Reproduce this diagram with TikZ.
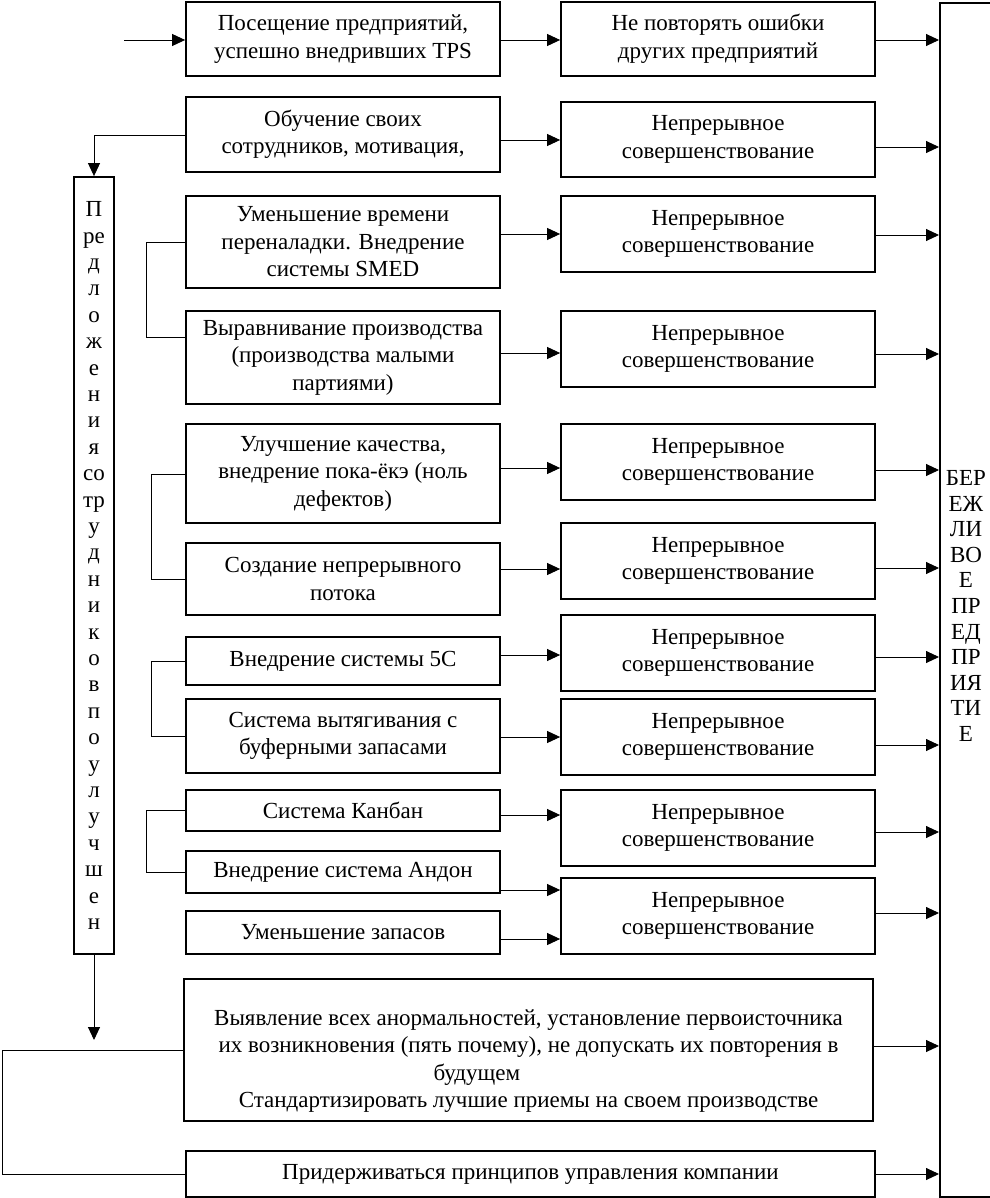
\documentclass[tikz,border=0pt]{standalone}
\usepackage{fontspec}
\setmainfont{Liberation Serif}
\usetikzlibrary{arrows.meta}
\begin{document}
\begin{tikzpicture}[x=1pt,y=-1pt,
  box/.style={draw, line width=1.8pt, align=center, inner sep=0pt, font=\fontsize{23}{27.5}\selectfont},
  lbox/.style={box, minimum width=314pt},
  rbox/.style={box, minimum width=314pt, minimum height=76pt},
  arr/.style={-{Triangle[length=13pt,width=12pt]}, line width=0.9pt},
  ln/.style={line width=0.9pt}]
\useasboundingbox (0,0) rectangle (989,1198);

% left column
\node[lbox, minimum height=74pt] (L1) at (343,39) {Посещение предприятий,\\успешно внедривших TPS};
\node[lbox, minimum height=75pt] (L2) at (343,134.5) {Обучение своих\\сотрудников, мотивация,};
\node[lbox, minimum height=92pt] (L3) at (343,242) {Уменьшение времени\\переналадки. Внедрение\\системы SMED};
\node[lbox, minimum height=93pt] (L4) at (343,357.5) {Выравнивание производства\\(производства малыми\\партиями)};
\node[lbox, minimum height=99pt] (L5) at (343,473.5) {Улучшение качества,\\внедрение пока-ёкэ (ноль\\дефектов)};
\node[lbox, minimum height=72pt] (L6) at (343,579) {Создание непрерывного\\потока};
\node[lbox, minimum height=48pt] (L7) at (343,661) {Внедрение системы 5С};
\node[lbox, minimum height=74pt] (L8) at (343,736) {Система вытягивания с\\буферными запасами};
\node[lbox, minimum height=41pt] (L9) at (343,810.5) {Система Канбан};
\node[lbox, minimum height=42pt] (L10) at (343,872) {Внедрение система Андон};
\node[lbox, minimum height=43pt] (L11) at (343,932.5) {Уменьшение запасов};

% right column
\node[rbox, minimum height=74pt] (R1) at (718,39) {Не повторять ошибки\\других предприятий};
\node[rbox, minimum height=75pt] (R2) at (718,139.5) {Непрерывное\\совершенствование};
\node[rbox] (R3) at (718,234) {Непрерывное\\совершенствование};
\node[rbox] (R4) at (718,349) {Непрерывное\\совершенствование};
\node[rbox] (R5) at (718,462) {Непрерывное\\совершенствование};
\node[rbox] (R6) at (718,561) {Непрерывное\\совершенствование};
\node[rbox] (R7) at (718,653) {Непрерывное\\совершенствование};
\node[rbox] (R8) at (718,737) {Непрерывное\\совершенствование};
\node[rbox] (R9) at (718,828) {Непрерывное\\совершенствование};
\node[rbox] (R10) at (718,916) {Непрерывное\\совершенствование};

% wide boxes
\node[box, minimum width=689pt, minimum height=142pt] (BG) at (528.5,1050) {};
\node[align=center, inner sep=0pt, font=\fontsize{23}{27.5}\selectfont] (BGt) at (528.5,1061)
  {Выявление всех анормальностей, установление первоисточника\\их возникновения (пять почему), не допускать их повторения в\\\makebox[190pt][l]{будущем}\\Стандартизировать лучшие приемы на своем производстве};
\node[box, minimum width=689pt, minimum height=46pt] (BT) at (530.5,1174) {Придерживаться принципов управления компании};

% vertical left box
\node[box, minimum width=40pt, minimum height=777pt, font=\fontsize{23}{26.4}\selectfont] (V) at (94,565.5)
  {П\\ре\\д\\л\\о\\ж\\е\\н\\и\\я\\со\\тр\\у\\д\\н\\и\\к\\о\\в\\п\\о\\у\\л\\у\\ч\\ш\\е\\н};

% right big box
\node[draw, line width=2pt, minimum width=90pt, minimum height=1194pt, anchor=north west, inner sep=0pt] (E) at (939,2) {};
\node[align=center, inner sep=0pt, font=\fontsize{23}{25.6}\selectfont] (Et) at (966,606)
  {БЕР\\ЕЖ\\ЛИ\\ВО\\Е\\ПР\\ЕД\\ПР\\ИЯ\\ТИ\\Е};

% entry arrow
\coordinate (in) at (124,40);
\draw[arr] (in) -- (L1.west |- in);

% left -> right arrows
\draw[arr] (L1.east |- 0,40) -- (R1.west |- 0,40);
\draw[arr] (L2.east |- 0,140) -- (R2.west |- 0,140);
\draw[arr] (L3.east |- 0,234) -- (R3.west |- 0,234);
\draw[arr] (L4.east |- 0,353) -- (R4.west |- 0,353);
\draw[arr] (L5.east |- 0,468) -- (R5.west |- 0,468);
\draw[arr] (L6.east |- 0,569) -- (R6.west |- 0,569);
\draw[arr] (L7.east |- 0,655) -- (R7.west |- 0,655);
\draw[arr] (L8.east |- 0,737) -- (R8.west |- 0,737);
\draw[arr] (L9.east |- 0,815) -- (R9.west |- 0,815);
\draw[arr] (L10.east |- 0,890) -- (R10.west |- 0,890);
\draw[arr] (L11.east |- 0,939) -- (R10.west |- 0,939);

% right -> enterprise arrows
\draw[arr] (R1.east |- 0,40) -- (E.west |- 0,40);
\draw[arr] (R2.east |- 0,147) -- (E.west |- 0,147);
\draw[arr] (R3.east |- 0,235) -- (E.west |- 0,235);
\draw[arr] (R4.east |- 0,354) -- (E.west |- 0,354);
\draw[arr] (R5.east |- 0,470) -- (E.west |- 0,470);
\draw[arr] (R6.east |- 0,568) -- (E.west |- 0,568);
\draw[arr] (R7.east |- 0,657) -- (E.west |- 0,657);
\draw[arr] (R8.east |- 0,745) -- (E.west |- 0,745);
\draw[arr] (R9.east |- 0,832) -- (E.west |- 0,832);
\draw[arr] (R10.east |- 0,913) -- (E.west |- 0,913);
\draw[arr] (BG.east |- 0,1046) -- (E.west |- 0,1046);
\draw[arr] (BT.east |- 0,1174) -- (E.west |- 0,1174);

% training -> proposals
\draw[arr] (L2.west |- 0,135) -| (V.north);
% proposals down
\coordinate (vdown) at (94,1040);
\draw[arr] (V.south) -- (vdown);
% loop on the far left
\coordinate (farl) at (2,1050);
\draw[ln] (BG.west) -- (farl) |- (BT.west);

% brackets
\draw[ln] (L3.west |- 0,242) -- (146,242) -- (146,337) -- (L4.west |- 0,337);
\draw[ln] (L5.west |- 0,474) -- (151,474) -- (151,579) -- (L6.west |- 0,579);
\draw[ln] (L7.west |- 0,661) -- (151,661) -- (151,736) -- (L8.west |- 0,736);
\draw[ln] (L9.west |- 0,810) -- (146,810) -- (146,872) -- (L10.west |- 0,872);
\end{tikzpicture}
\end{document}
